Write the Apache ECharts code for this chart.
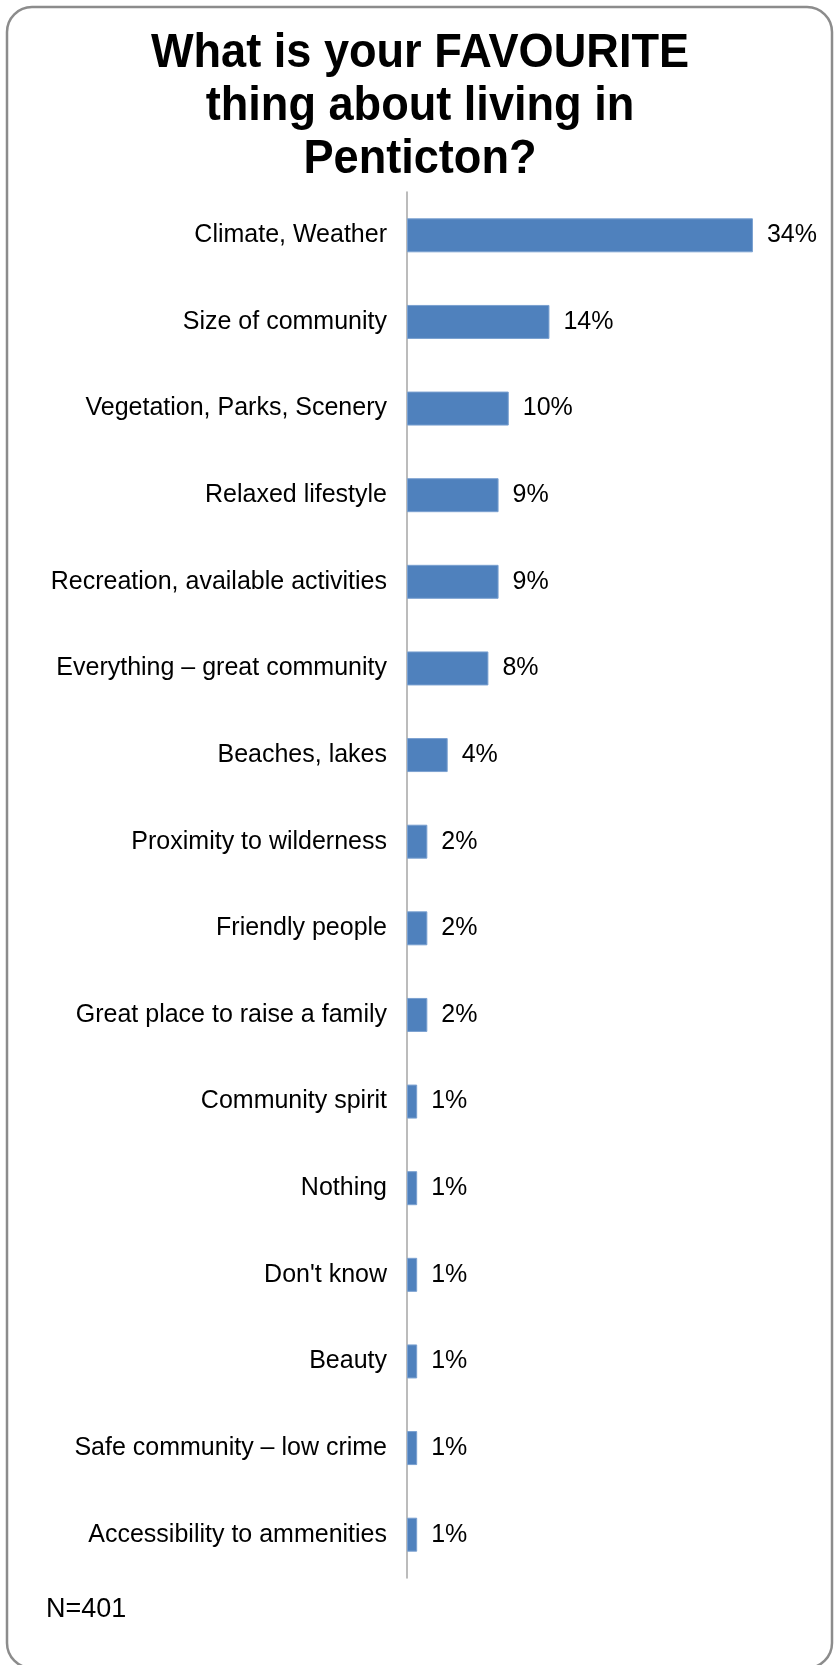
<!DOCTYPE html>
<html>
<head>
<meta charset="utf-8">
<style>
  html, body { margin: 0; padding: 0; background: #ffffff; }
  #chart { width: 835px; height: 1665px; }
</style>
<script src="https://cdn.jsdelivr.net/npm/echarts@6/dist/echarts.min.js"></script>
</head>
<body>
<div id="chart"></div>
<script>
// Survey answers, top to bottom
const categories = [
  'Climate, Weather',
  'Size of community',
  'Vegetation, Parks, Scenery',
  'Relaxed lifestyle',
  'Recreation, available activities',
  'Everything \u2013 great community',
  'Beaches, lakes',
  'Proximity to wilderness',
  'Friendly people',
  'Great place to raise a family',
  'Community spirit',
  'Nothing',
  "Don't know",
  'Beauty',
  'Safe community \u2013 low crime',
  'Accessibility to ammenities'
];
// Share of respondents (%)
const shares = [34, 14, 10, 9, 9, 8, 4, 2, 2, 2, 1, 1, 1, 1, 1, 1];
const titleLines = ['What is your FAVOURITE', 'thing about living in', 'Penticton?'];
const sampleNote = 'N=401';

const chart = echarts.init(document.getElementById('chart'), null, { renderer: 'canvas' });

chart.setOption({
  backgroundColor: '#ffffff',
  animation: false,
  grid: { left: 407, right: 21, top: 192, bottom: 87, containLabel: false },
  xAxis: {
    type: 'value',
    min: 0,
    max: 40,
    show: false,
    splitLine: { show: false }
  },
  yAxis: {
    type: 'category',
    data: categories,
    inverse: true,
    axisTick: { show: false },
    axisLine: { show: true, lineStyle: { color: '#a6a6a6', width: 1.5 } },
    axisLabel: {
      margin: 20,
      fontSize: 25,
      fontFamily: 'Liberation Sans, Arial, sans-serif',
      color: '#000000'
    },
    splitLine: { show: false }
  },
  series: [{
    type: 'bar',
    data: shares,
    barWidth: 34,
    itemStyle: { color: '#4f81bd', borderColor: '#7aa0d0', borderWidth: 1 },
    label: {
      show: true,
      position: 'right',
      distance: 14,
      formatter: '{c}%',
      fontSize: 25,
      fontFamily: 'Liberation Sans, Arial, sans-serif',
      color: '#000000'
    }
  }],
  graphic: [
    {
      type: 'rect',
      shape: { x: 7, y: 7, width: 825, height: 1661, r: 25 },
      style: { fill: 'none', stroke: '#8c8c8c', lineWidth: 2.5 },
      silent: true,
      z: -1
    },
    {
      type: 'text',
      x: 420,
      y: 27,
      scaleX: 0.94,
      style: {
        text: titleLines.join('\n'),
        font: 'bold 48px "Liberation Sans", Arial, sans-serif',
        lineHeight: 53,
        fill: '#000000',
        textAlign: 'center',
        textVerticalAlign: 'top'
      }
    },
    {
      type: 'text',
      x: 46,
      y: 1610,
      style: {
        text: sampleNote,
        font: '27px "Liberation Sans", Arial, sans-serif',
        fill: '#000000',
        textAlign: 'left',
        textVerticalAlign: 'middle'
      }
    }
  ]
});
</script>
</body>
</html>
